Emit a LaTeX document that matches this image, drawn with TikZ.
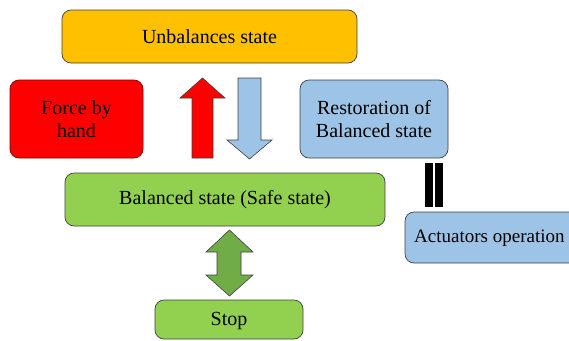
\documentclass[tikz,border=0pt]{standalone}
\usepackage{fontspec}
\setmainfont{Liberation Serif}
\definecolor{cyel}{HTML}{FFC000}
\definecolor{cred}{HTML}{FF0000}
\definecolor{cblue}{HTML}{9DC3E6}
\definecolor{cgreen}{HTML}{92D050}
\definecolor{cdgreen}{HTML}{70AD47}
\definecolor{cline}{HTML}{404040}
\begin{document}
\begin{tikzpicture}[x=1pt,y=-1pt,
  box/.style={draw=cline,line width=0.7pt,rounded corners=9pt},
  lbl/.style={font=\fontsize{20}{23}\selectfont,align=center,text=black},
  arr/.style={draw=cline,line width=0.6pt}]
\useasboundingbox (0,0) rectangle (569,340);
\clip (0,0) rectangle (569,340);
% boxes
\draw[box,fill=cyel] (62,10) rectangle (357,63);
\node[lbl] (unb) at (209.5,37) {Unbalances state};
\draw[box,fill=cred,draw=red!50!black] (10,80) rectangle (143,158);
\node[lbl] (force) at (76.5,119) {Force by\\hand};
\draw[box,fill=cblue] (300,80) rectangle (448,158);
\node[lbl] (rest) at (374,119) {Restoration of\\Balanced state};
\draw[box,fill=cgreen] (65,173) rectangle (385,226);
\node[lbl] (bal) at (225,200) {Balanced state (Safe state)};
\draw[box,fill=cblue] (405,212) rectangle (600,263);
\node[lbl,font=\fontsize{19}{22}\selectfont,anchor=west,inner sep=0pt] (act) at (414,238) {Actuators operation};
\draw[box,fill=cgreen] (155,300) rectangle (303,339);
\node[lbl] (stop) at (229,321) {Stop};
% red up arrow
\draw[arr,fill=cred] (192,158) -- (192,98) -- (180,98) -- (202.5,78) -- (225,98) -- (213,98) -- (213,158) -- cycle;
% blue down arrow
\draw[arr,fill=cblue] (238,78) -- (261,78) -- (261,140) -- (272,140) -- (249.5,159) -- (227,140) -- (238,140) -- cycle;
% double bar
\fill[black] (425,163) rectangle (433,207);
\fill[black] (435,163) rectangle (443,207);
% green double arrow
\draw[arr,fill=cdgreen] (229.5,230) -- (253,252) -- (241,252) -- (241,275) -- (253,275) -- (229.5,296) -- (206,275) -- (217,275) -- (217,252) -- (206,252) -- cycle;
\end{tikzpicture}
\end{document}
